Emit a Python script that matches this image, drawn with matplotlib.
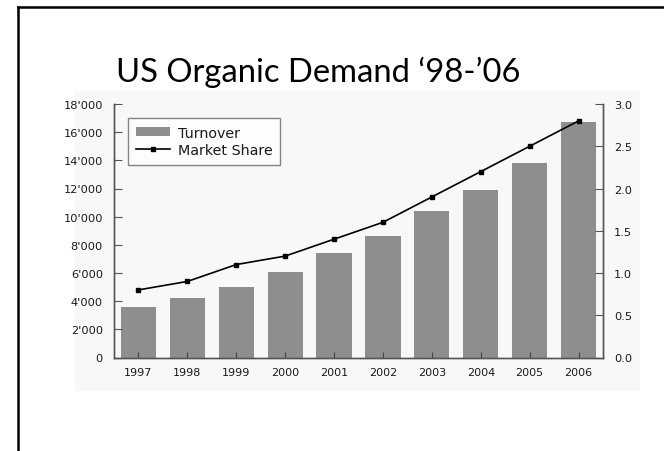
import matplotlib
matplotlib.use("Agg")
import matplotlib.pyplot as plt
from matplotlib.patches import Rectangle, Patch
from matplotlib.lines import Line2D
from matplotlib.ticker import FuncFormatter

# Data
years = ["1997", "1998", "1999", "2000", "2001", "2002", "2003", "2004", "2005", "2006"]
turnover = [3600, 4200, 5000, 6100, 7400, 8600, 10400, 11900, 13800, 16700]
market_share = [0.8, 0.9, 1.1, 1.2, 1.4, 1.6, 1.9, 2.2, 2.5, 2.8]
left_ticks = [0, 2000, 4000, 6000, 8000, 10000, 12000, 14000, 16000, 18000]
right_ticks = [0.0, 0.5, 1.0, 1.5, 2.0, 2.5, 3.0]

fig = plt.figure(figsize=(6.64, 4.52), dpi=100)

# slide frame (left and top edges) and faint picture background
fig.add_artist(Line2D([18/664, 18/664], [0, 1 - 8/452], color="black", lw=1.8,
                      transform=fig.transFigure))
fig.add_artist(Line2D([18/664, 1], [1 - 8/452, 1 - 8/452], color="black", lw=1.8,
                      transform=fig.transFigure))
fig.add_artist(Rectangle((75/664, 1 - 392/452), 565/664, 300/452, transform=fig.transFigure,
                         facecolor="#f8f8f8", edgecolor="none", zorder=0))

fig.text(0.479, 1 - 72/452, "US Organic Demand \u201898-\u201906", ha="center", va="center",
         fontsize=23.6, family="Lato", color="black")

ax = fig.add_axes([114/664, 1 - 358.5/452, 489/664, 253.5/452])
ax.patch.set_alpha(0)
x = range(len(years))
ax.bar(x, turnover, width=0.72, color="#8e8e8e")
ax.set_xlim(-0.5, len(years) - 0.5)
ax.set_ylim(0, 18000)
ax.set_yticks(left_ticks)
ax.yaxis.set_major_formatter(FuncFormatter(lambda v, p: "{:,}".format(int(v)).replace(",", "'")))
ax.set_xticks(list(x))
ax.set_xticklabels(years)

ax2 = ax.twinx()
ax2.plot(list(x), market_share, color="black", lw=1.2, marker="s", markersize=3.5)
ax2.set_ylim(0, 3.0)
ax2.set_yticks(right_ticks)
ax2.set_yticklabels(["{:.1f}".format(v) for v in right_ticks])

for a in (ax, ax2):
    a.spines["top"].set_visible(False)
    for s in ("left", "right", "bottom"):
        a.spines[s].set_color("#555555")
        a.spines[s].set_linewidth(1.0)

ax.tick_params(axis="y", direction="in", length=6, color="#555555", pad=8,
               labelsize=8.2, labelcolor="#1a1a1a")
ax.tick_params(axis="x", direction="in", length=4, color="#444444", pad=7,
               labelsize=8, labelcolor="#1a1a1a")
ax2.tick_params(axis="y", direction="in", length=6, color="#555555", pad=8,
                labelsize=8.2, labelcolor="#1a1a1a")

handles = [Patch(facecolor="#8e8e8e", edgecolor="none"),
           Line2D([], [], color="black", lw=1.2, marker="s", markersize=3.5)]
leg = ax2.legend(handles, ["Turnover", "Market Share"], loc="upper left",
                 bbox_to_anchor=(0.028, 0.945), fancybox=False, frameon=True,
                 fontsize=10.3, handlelength=2.4, handleheight=0.6, borderpad=0.55,
                 labelspacing=0.22, handletextpad=0.55, borderaxespad=0)
leg.get_frame().set_edgecolor("#666666")
leg.get_frame().set_linewidth(1.0)
for t in leg.get_texts():
    t.set_color("#1a1a1a")

fig.savefig("out.png", dpi=100)
